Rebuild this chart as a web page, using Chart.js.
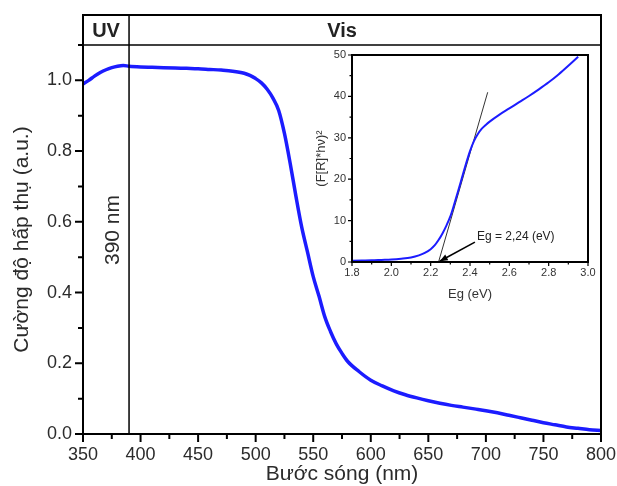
<!DOCTYPE html>
<html><head><meta charset="utf-8">
<script src="https://cdn.jsdelivr.net/npm/chart.js@4.4.1/dist/chart.umd.min.js"></script>
<style>
html,body{margin:0;padding:0;background:#fff;overflow:hidden}
#wrap{position:relative;width:617px;height:486px;background:#fff}
#main{position:absolute;left:0;top:0}
#inset{position:absolute;left:300px;top:40px}
</style></head><body>
<div id="wrap"><canvas id="main" width="617" height="486"></canvas><canvas id="inset" width="310" height="270"></canvas></div>
<script>
// ---- main chart data ----
const wavelength = [350,355,360,365,370,375,380,385,390,400,410,420,430,440,450,460,470,480,490,495,500,505,510,515,520,525,530,535,540,545,550,555,560,565,570,575,580,590,600,610,620,630,640,650,660,670,680,690,700,710,720,730,740,750,760,770,780,790,800];
const absorbance = [0.990,1.000,1.012,1.022,1.030,1.036,1.040,1.042,1.040,1.038,1.037,1.036,1.035,1.034,1.033,1.031,1.029,1.026,1.020,1.014,1.005,0.993,0.975,0.950,0.915,0.850,0.765,0.672,0.585,0.515,0.445,0.390,0.332,0.290,0.255,0.228,0.205,0.176,0.152,0.136,0.122,0.111,0.102,0.094,0.087,0.081,0.076,0.071,0.066,0.060,0.053,0.046,0.039,0.032,0.026,0.020,0.016,0.012,0.010];
const xTicks = [350,400,450,500,550,600,650,700,750,800];
const xMinorTicks = [375,425,475,525,575,625,675,725,775];
const yTicks = [0,0.2,0.4,0.6,0.8,1.0];
const yMinorTicks = [0.1,0.3,0.5,0.7,0.9,1.1];
const bandLabels = ['UV','Vis'];
const boundaryNm = 390;
const boundaryLabel = '390 nm';
const xTitle = 'Bước sóng (nm)';
const yTitle = 'Cường độ hấp thụ (a.u.)';

// ---- inset data ----
const insetEg = [1.80,1.85,1.90,1.95,2.00,2.05,2.10,2.14,2.17,2.20,2.22,2.24,2.26,2.28,2.30,2.32,2.34,2.36,2.38,2.40,2.42,2.44,2.46,2.48,2.50,2.55,2.60,2.65,2.70,2.75,2.80,2.85,2.90,2.95];
const insetF = [0.3,0.35,0.4,0.5,0.6,0.8,1.1,1.6,2.2,3.1,4.0,5.3,6.9,8.8,11.0,14.0,17.2,20.5,23.8,26.8,29.2,30.9,32.2,33.1,33.9,35.6,37.1,38.6,40.1,41.7,43.4,45.3,47.4,49.6];
const tangentEg = [2.24, 2.49];
const tangentF = [0, 41];
const insetXTicks = [1.8,2.0,2.2,2.4,2.6,2.8,3.0];
const insetXMinor = [1.9,2.1,2.3,2.5,2.7,2.9];
const insetYTicks = [0,10,20,30,40,50];
const insetYMinor = [5,15,25,35,45];
const egLabel = 'Eg = 2,24 (eV)';
const egValue = 2.24;

const FONT = "'Liberation Sans', Arial, sans-serif";
const TXT = '#2b2b2b';
const BLUE = 'rgb(28,28,255)';

const mainPlugin = {
  id: 'mainDeco',
  afterDraw(chart) {
    const {ctx, chartArea: a, scales: {x, y}} = chart;
    const topFrame = a.top - 30;
    ctx.save();
    ctx.strokeStyle = '#000';
    ctx.lineWidth = 2;
    ctx.strokeRect(a.left, topFrame, a.right - a.left, a.bottom - topFrame);
    ctx.lineWidth = 1.5;
    ctx.beginPath(); ctx.moveTo(a.left, a.top); ctx.lineTo(a.right, a.top); ctx.stroke();
    const bx = x.getPixelForValue(boundaryNm);
    ctx.beginPath(); ctx.moveTo(bx, topFrame); ctx.lineTo(bx, a.bottom); ctx.stroke();
    // ticks
    ctx.lineWidth = 2;
    ctx.beginPath();
    xTicks.forEach(v => { const p = x.getPixelForValue(v); ctx.moveTo(p, a.bottom); ctx.lineTo(p, a.bottom + 8); });
    xMinorTicks.forEach(v => { const p = x.getPixelForValue(v); ctx.moveTo(p, a.bottom); ctx.lineTo(p, a.bottom + 5); });
    yTicks.forEach(v => { const p = y.getPixelForValue(v); ctx.moveTo(a.left, p); ctx.lineTo(a.left - 8, p); });
    yMinorTicks.forEach(v => { const p = y.getPixelForValue(v); ctx.moveTo(a.left, p); ctx.lineTo(a.left - 5, p); });
    ctx.stroke();
    // header labels
    ctx.fillStyle = '#222';
    ctx.font = 'bold 20px ' + FONT;
    ctx.textAlign = 'center'; ctx.textBaseline = 'middle';
    ctx.fillText(bandLabels[0], (a.left + bx) / 2, (topFrame + a.top) / 2 + 1);
    ctx.fillText(bandLabels[1], (a.left + a.right) / 2, (topFrame + a.top) / 2 + 1);
    // boundary label
    ctx.save();
    ctx.translate(bx - 16, 230);
    ctx.rotate(-Math.PI / 2);
    ctx.font = '21px ' + FONT;
    ctx.fillStyle = TXT;
    ctx.fillText(boundaryLabel, 0, 0);
    ctx.restore();
    ctx.restore();
  }
};

new Chart(document.getElementById('main'), {
  type: 'line',
  data: {
    datasets: [{
      data: wavelength.map((w, i) => ({x: w, y: absorbance[i]})),
      borderColor: BLUE, borderWidth: 3.5, pointRadius: 0,
      cubicInterpolationMode: 'monotone', fill: false
    }]
  },
  options: {
    responsive: false, animation: false, devicePixelRatio: 1,
    layout: {padding: {top: 45, right: 16, left: 0, bottom: 0}},
    plugins: {legend: {display: false}, tooltip: {enabled: false}},
    scales: {
      x: {
        type: 'linear', min: 350, max: 800,
        afterBuildTicks: s => { s.ticks = xTicks.map(v => ({value: v})); },
        afterFit: s => { s.height = 52; s.paddingLeft = 0; s.paddingRight = 0; },
        grid: {display: false, drawTicks: false}, border: {display: false},
        ticks: {font: {family: FONT, size: 18}, color: TXT, padding: 10, maxRotation: 0, autoSkip: false},
        title: {display: true, text: xTitle, color: TXT, font: {family: FONT, size: 21, lineHeight: 1}, padding: {top: 0, bottom: 1}}
      },
      y: {
        type: 'linear', min: 0, max: 1.1,
        afterBuildTicks: s => { s.ticks = yTicks.map(v => ({value: v})); },
        afterFit: s => { s.width = 83; s.paddingTop = 0; s.paddingBottom = 0; },
        grid: {display: false, drawTicks: false}, border: {display: false},
        ticks: {font: {family: FONT, size: 18}, color: TXT, padding: 11, callback: v => Number(v).toFixed(1)},
        title: {display: true, text: yTitle, color: TXT, font: {family: FONT, size: 21, lineHeight: 1}, padding: {top: 12, bottom: 0}}
      }
    }
  },
  plugins: [mainPlugin]
});

const insetPlugin = {
  id: 'insetDeco',
  beforeDatasetsDraw(chart) {
    const {ctx, chartArea: a} = chart;
    ctx.save(); ctx.fillStyle = '#fff'; ctx.fillRect(a.left, a.top, a.right - a.left, a.bottom - a.top); ctx.restore();
  },
  afterDraw(chart) {
    const {ctx, chartArea: a, scales: {x, y}} = chart;
    ctx.save();
    ctx.strokeStyle = '#000';
    ctx.lineWidth = 2;
    ctx.strokeRect(a.left, a.top, a.right - a.left, a.bottom - a.top);
    ctx.lineWidth = 1.2;
    ctx.beginPath();
    insetXTicks.forEach(v => { const p = x.getPixelForValue(v); ctx.moveTo(p, a.bottom); ctx.lineTo(p, a.bottom + 4); });
    insetXMinor.forEach(v => { const p = x.getPixelForValue(v); ctx.moveTo(p, a.bottom); ctx.lineTo(p, a.bottom + 2.5); });
    insetYTicks.forEach(v => { const p = y.getPixelForValue(v); ctx.moveTo(a.left, p); ctx.lineTo(a.left - 4, p); });
    insetYMinor.forEach(v => { const p = y.getPixelForValue(v); ctx.moveTo(a.left, p); ctx.lineTo(a.left - 2.5, p); });
    ctx.stroke();
    // annotation
    const tx = x.getPixelForValue(2.435), ty = y.getPixelForValue(6.0);
    ctx.fillStyle = '#222';
    ctx.font = '12px ' + FONT;
    ctx.textAlign = 'left'; ctx.textBaseline = 'middle';
    ctx.fillText(egLabel, tx, ty);
    const x0 = x.getPixelForValue(2.425), y0 = y.getPixelForValue(4.8);
    const x1 = x.getPixelForValue(egValue + 0.006), y1 = y.getPixelForValue(0.2);
    ctx.lineWidth = 1.6;
    ctx.beginPath(); ctx.moveTo(x0, y0); ctx.lineTo(x1, y1); ctx.stroke();
    const ang = Math.atan2(y1 - y0, x1 - x0), L = 8, W = 3.2;
    ctx.beginPath();
    ctx.moveTo(x1, y1);
    ctx.lineTo(x1 - L * Math.cos(ang) + W * Math.sin(ang), y1 - L * Math.sin(ang) - W * Math.cos(ang));
    ctx.lineTo(x1 - L * Math.cos(ang) - W * Math.sin(ang), y1 - L * Math.sin(ang) + W * Math.cos(ang));
    ctx.closePath(); ctx.fillStyle = '#000'; ctx.fill();
    ctx.restore();
  }
};

new Chart(document.getElementById('inset'), {
  type: 'line',
  data: {
    datasets: [
      {data: insetEg.map((e, i) => ({x: e, y: insetF[i]})), borderColor: BLUE, borderWidth: 2, pointRadius: 0, cubicInterpolationMode: 'monotone', fill: false},
      {data: tangentEg.map((e, i) => ({x: e, y: tangentF[i]})), borderColor: '#333', borderWidth: 1, pointRadius: 0, fill: false}
    ]
  },
  options: {
    responsive: false, animation: false, devicePixelRatio: 1,
    layout: {padding: {top: 15, right: 22, left: 0, bottom: 0}},
    plugins: {legend: {display: false}, tooltip: {enabled: false}},
    scales: {
      x: {
        type: 'linear', min: 1.8, max: 3.0,
        afterBuildTicks: s => { s.ticks = insetXTicks.map(v => ({value: v})); },
        afterFit: s => { s.height = 48; s.paddingLeft = 0; s.paddingRight = 0; },
        grid: {display: false, drawTicks: false}, border: {display: false},
        ticks: {font: {family: FONT, size: 11}, color: '#333', padding: 4, maxRotation: 0, autoSkip: false, callback: v => Number(v).toFixed(1)},
        title: {display: true, text: 'Eg (eV)', color: '#333', font: {family: FONT, size: 13, lineHeight: 1}, padding: {top: 0, bottom: 9}}
      },
      y: {
        type: 'linear', min: 0, max: 50,
        afterBuildTicks: s => { s.ticks = insetYTicks.map(v => ({value: v})); },
        afterFit: s => { s.width = 52; s.paddingTop = 0; s.paddingBottom = 0; },
        grid: {display: false, drawTicks: false}, border: {display: false},
        ticks: {font: {family: FONT, size: 11}, color: '#333', padding: 6, callback: v => String(v)},
        title: {display: true, text: '(F[R]*hν)²', color: '#333', font: {family: FONT, size: 13, lineHeight: 1}, padding: {top: 15, bottom: 0}}
      }
    }
  },
  plugins: [insetPlugin]
});
</script>
</body></html>
